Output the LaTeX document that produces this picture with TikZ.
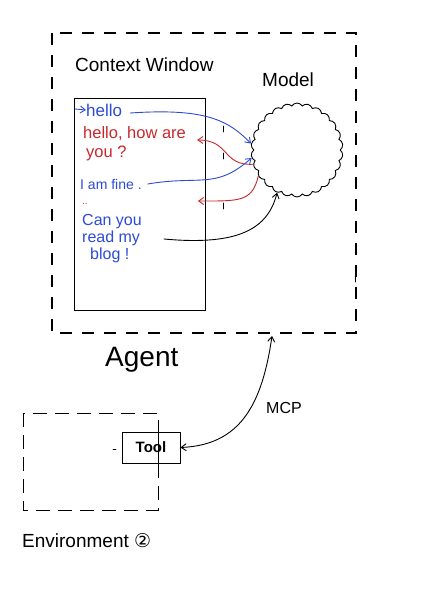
\documentclass[tikz,border=0pt]{standalone}
\usepackage{fontspec}
\setmainfont{Liberation Sans}
\newfontfamily\symfont{DejaVu Sans}
\usetikzlibrary{shapes.symbols,arrows.meta,calc}
\definecolor{penblue}{RGB}{45,75,215}
\definecolor{penred}{RGB}{200,40,45}
\begin{document}
\begin{tikzpicture}[x=1pt,y=-1pt,
  pen/.style={line width=0.9pt,line cap=round},
  bigdash/.style={line width=1.8pt,dash pattern=on 12pt off 10pt},
  envdash/.style={line width=0.9pt,dash pattern=on 14pt off 8pt},
  hand/.style={inner sep=0pt,anchor=west},
  tip/.style={-{Straight Barb[length=5pt,width=7pt]}},
  tips/.style={{Straight Barb[length=5pt,width=7pt]}-{Straight Barb[length=5pt,width=7pt]}}]
\useasboundingbox (0,0) rectangle (445,594);
\fill[white] (0,0) rectangle (445,594);
% agent box
\draw[bigdash] (52,33) rectangle (356,333);
\coordinate (agentbot) at (272,336);
\node[hand,font=\fontsize{19}{20}\selectfont] (ctxtitle) at (75,65) {Context Window};
\node[hand,font=\fontsize{19}{20}\selectfont] (modeltitle) at (262,80) {Model};
% context window
\node[draw,pen,minimum width=131,minimum height=212,inner sep=0pt] (ctxwin) at (139.5,204) {};
% model cloud
\node[cloud,draw,pen,cloud puffs=26,cloud puff arc=120,aspect=0.95,minimum width=92,minimum height=94,inner sep=0pt] (model) at (297,150) {};
% messages
\node[hand,text=penblue,font=\fontsize{17}{18}\selectfont] (hello) at (86,110) {hello};
\coordinate (hstart) at (75,109);
\draw[pen,penblue,tip] (hstart) -- (hello.west);
\node[hand,text=penred,font=\fontsize{16.5}{17}\selectfont] (howare) at (83,134) {hello, how are};
\node[hand,text=penred,font=\fontsize{16.5}{17}\selectfont] (you) at (86,153) {you ?};
\node[hand,text=penblue,font=\fontsize{14}{15}\selectfont] (fine) at (80,184) {I am fine .};
\node[hand,text=penred,font=\fontsize{10}{11}\selectfont] (dots) at (82,204) {..};
\node[hand,text=penblue,align=left,font=\fontsize{16}{17}\selectfont] (blog) at (82,239) {Can you\\read my\\\hspace*{8pt}blog !};
% arrows
\draw[pen,penblue,tip] ($(hello.east)+(8,3)$) .. controls (205,108) and (228,120) .. (model.172);
\draw[pen,penred,tip] (model.198) .. controls (222,166) and (230,140) .. ($(howare.east)+(11,6)$);
\draw[pen,penblue,tip] ($(fine.east)+(6,0)$) .. controls (200,175) and (215,190) .. (model.190);
\draw[pen,penred,tip] (model.214) .. controls (252,202) and (240,201) .. ($(dots.east)+(110,-3)$);
\draw[pen,tip] ($(blog.east)+(22,0)$) .. controls (240,246) and (268,228) .. (model.245);
% small ticks
\draw[pen] (223,126) -- (223,132);
\draw[pen] (223,153) -- (223,159);
\draw[pen] (223,203) -- (223,209);
\draw[pen] (355,268) -- (355,282);
% agent label
\node[hand,font=\fontsize{28}{29}\selectfont] (agent) at (105,360) {Agent};
% environment
\draw[envdash] (23,413) rectangle (158,510);
\node[draw,pen,minimum width=58,minimum height=31,inner sep=0pt,font=\bfseries\fontsize{15}{16}\selectfont] (tool) at (151,447.5) {Tool};
\draw[pen] (158,432) -- (158,470);
\draw[pen] (113,449) -- (116,449);
\draw[pen,tips] (tool.east) .. controls (240,445) and (262,405) .. (agentbot);
\node[hand,font=\fontsize{16}{17}\selectfont] (mcp) at (266,408) {MCP};
\node[hand,font=\fontsize{19}{20}\selectfont] (env) at (22,541) {Environment {\symfont ②}};
\end{tikzpicture}
\end{document}
